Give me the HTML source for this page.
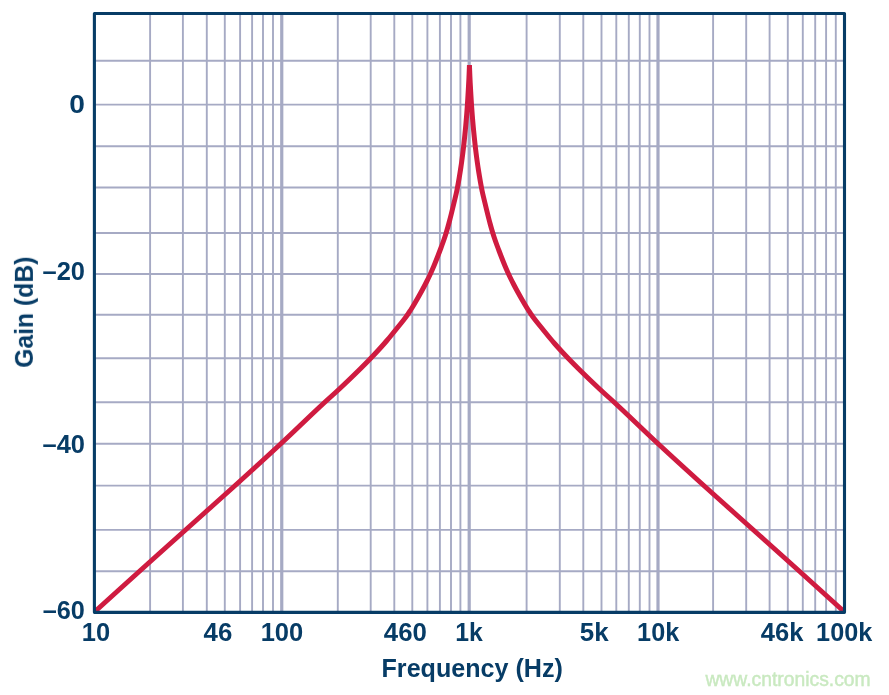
<!DOCTYPE html>
<html lang="en"><head><meta charset="utf-8"><title>Gain vs Frequency</title>
<style>
html,body{margin:0;padding:0;background:#fff;}
body{width:889px;height:695px;overflow:hidden;}
svg{display:block;}
.lbl{font-family:"Liberation Sans",Arial,Helvetica,sans-serif;font-weight:700;fill:#073c66;}
.wm{font-family:"Liberation Sans",Arial,Helvetica,sans-serif;font-weight:400;fill:#c9e9c0;stroke:#c9e9c0;stroke-width:0.45px;}
</style></head><body>
<svg width="889" height="695" viewBox="0 0 889 695">
<rect x="0" y="0" width="889" height="695" fill="#ffffff"/>
<g stroke="#a6aac4" stroke-width="1.9" fill="none">
<line x1="94.4" y1="60.7" x2="844.5" y2="60.7"/>
<line x1="94.4" y1="104.6" x2="844.5" y2="104.6"/>
<line x1="94.4" y1="146.3" x2="844.5" y2="146.3"/>
<line x1="94.4" y1="187.5" x2="844.5" y2="187.5"/>
<line x1="94.4" y1="233.0" x2="844.5" y2="233.0"/>
<line x1="94.4" y1="274.0" x2="844.5" y2="274.0"/>
<line x1="94.4" y1="314.8" x2="844.5" y2="314.8"/>
<line x1="94.4" y1="358.2" x2="844.5" y2="358.2"/>
<line x1="94.4" y1="402.2" x2="844.5" y2="402.2"/>
<line x1="94.4" y1="443.7" x2="844.5" y2="443.7"/>
<line x1="94.4" y1="485.6" x2="844.5" y2="485.6"/>
<line x1="94.4" y1="529.9" x2="844.5" y2="529.9"/>
<line x1="94.4" y1="571.3" x2="844.5" y2="571.3"/>
<line x1="150.1" y1="13.5" x2="150.1" y2="612.35"/>
<line x1="182.9" y1="13.5" x2="182.9" y2="612.35"/>
<line x1="206.8" y1="13.5" x2="206.8" y2="612.35"/>
<line x1="224.8" y1="13.5" x2="224.8" y2="612.35"/>
<line x1="240.1" y1="13.5" x2="240.1" y2="612.35"/>
<line x1="252.1" y1="13.5" x2="252.1" y2="612.35"/>
<line x1="263.0" y1="13.5" x2="263.0" y2="612.35"/>
<line x1="273.0" y1="13.5" x2="273.0" y2="612.35"/>
<line x1="337.8" y1="13.5" x2="337.8" y2="612.35"/>
<line x1="370.7" y1="13.5" x2="370.7" y2="612.35"/>
<line x1="394.3" y1="13.5" x2="394.3" y2="612.35"/>
<line x1="412.3" y1="13.5" x2="412.3" y2="612.35"/>
<line x1="427.4" y1="13.5" x2="427.4" y2="612.35"/>
<line x1="439.9" y1="13.5" x2="439.9" y2="612.35"/>
<line x1="451.0" y1="13.5" x2="451.0" y2="612.35"/>
<line x1="460.4" y1="13.5" x2="460.4" y2="612.35"/>
<line x1="526.6" y1="13.5" x2="526.6" y2="612.35"/>
<line x1="559.8" y1="13.5" x2="559.8" y2="612.35"/>
<line x1="583.3" y1="13.5" x2="583.3" y2="612.35"/>
<line x1="601.5" y1="13.5" x2="601.5" y2="612.35"/>
<line x1="616.3" y1="13.5" x2="616.3" y2="612.35"/>
<line x1="628.8" y1="13.5" x2="628.8" y2="612.35"/>
<line x1="639.8" y1="13.5" x2="639.8" y2="612.35"/>
<line x1="649.5" y1="13.5" x2="649.5" y2="612.35"/>
<line x1="713.1" y1="13.5" x2="713.1" y2="612.35"/>
<line x1="746.2" y1="13.5" x2="746.2" y2="612.35"/>
<line x1="769.6" y1="13.5" x2="769.6" y2="612.35"/>
<line x1="787.8" y1="13.5" x2="787.8" y2="612.35"/>
<line x1="802.8" y1="13.5" x2="802.8" y2="612.35"/>
<line x1="815.2" y1="13.5" x2="815.2" y2="612.35"/>
<line x1="826.1" y1="13.5" x2="826.1" y2="612.35"/>
<line x1="835.8" y1="13.5" x2="835.8" y2="612.35"/>
</g>
<g stroke="#a6aac4" stroke-width="3.2" fill="none">
<line x1="281.75" y1="13.5" x2="281.75" y2="612.35"/>
<line x1="469.2" y1="13.5" x2="469.2" y2="612.35"/>
<line x1="658.0" y1="13.5" x2="658.0" y2="612.35"/>
</g>
<clipPath id="c"><rect x="94.4" y="13.5" width="750.1" height="598.85"/></clipPath>
<path d="M94.45,612.00 L95.55,611.00 L98.86,608.00 L102.17,605.00 L105.47,602.00 L108.79,599.00 L112.10,596.00 L115.41,593.00 L118.73,590.00 L122.05,587.00 L125.37,584.00 L128.69,581.00 L132.01,578.00 L135.34,575.00 L138.66,572.00 L141.99,569.00 L145.32,566.00 L148.66,563.00 L151.99,560.00 L155.33,557.00 L158.67,554.00 L162.01,551.00 L165.36,548.00 L168.71,545.00 L172.06,542.00 L175.41,539.00 L178.76,536.00 L182.12,533.00 L185.47,530.00 L188.82,527.00 L192.18,524.00 L195.53,521.00 L198.88,518.00 L202.23,515.00 L205.57,512.00 L208.92,509.00 L212.27,506.00 L215.62,503.00 L218.97,500.00 L222.32,497.00 L225.67,494.00 L229.01,491.00 L232.35,488.00 L235.68,485.00 L239.00,482.00 L242.31,479.00 L245.61,476.00 L248.91,473.00 L252.21,470.00 L255.51,467.00 L258.79,464.00 L262.08,461.00 L265.35,458.00 L268.62,455.00 L271.88,452.00 L275.13,449.00 L278.37,446.00 L281.60,443.00 L284.81,440.00 L288.01,437.00 L291.18,434.00 L294.34,431.00 L297.50,428.00 L300.64,425.00 L303.79,422.00 L306.94,419.00 L310.09,416.00 L313.26,413.00 L316.44,410.00 L319.64,407.00 L322.86,404.00 L326.11,401.00 L329.42,398.00 L332.76,395.00 L336.08,392.00 L339.32,389.00 L342.50,386.00 L345.67,383.00 L348.82,380.00 L351.94,377.00 L355.03,374.00 L358.10,371.00 L361.14,368.00 L364.14,365.00 L367.10,362.00 L370.02,359.00 L372.90,356.00 L375.73,353.00 L378.51,350.00 L381.24,347.00 L383.91,344.00 L386.51,341.00 L389.04,338.00 L391.51,335.00 L393.94,332.00 L396.36,329.00 L398.80,326.00 L401.24,323.00 L403.62,320.00 L405.90,317.00 L408.03,314.00 L410.03,311.00 L411.92,308.00 L413.74,305.00 L415.50,302.00 L417.23,299.00 L418.94,296.00 L420.61,293.00 L422.26,290.00 L423.87,287.00 L425.44,284.00 L426.97,281.00 L428.46,278.00 L429.89,275.00 L431.27,272.00 L432.59,269.00 L433.87,266.00 L435.10,263.00 L436.30,260.00 L437.48,257.00 L438.63,254.00 L439.78,251.00 L440.92,248.00 L442.04,245.00 L443.13,242.00 L444.17,239.00 L445.17,236.00 L446.12,233.00 L447.01,230.00 L447.87,227.00 L448.70,224.00 L449.50,221.00 L450.27,218.00 L451.03,215.00 L451.77,212.00 L452.50,209.00 L453.23,206.00 L453.95,203.00 L454.68,200.00 L455.40,197.00 L456.11,194.00 L456.77,191.00 L457.37,188.00 L457.93,185.00 L458.47,182.00 L458.99,179.00 L459.49,176.00 L459.98,173.00 L460.46,170.00 L460.92,167.00 L461.36,164.00 L461.78,161.00 L462.19,158.00 L462.58,155.00 L462.96,152.00 L463.32,149.00 L463.66,146.00 L464.00,143.00 L464.32,140.00 L464.64,137.00 L464.94,134.00 L465.24,131.00 L465.53,128.00 L465.81,125.00 L466.07,122.00 L466.33,119.00 L466.58,116.00 L466.81,113.00 L467.03,110.00 L467.25,107.00 L467.45,104.00 L467.64,101.00 L467.83,98.00 L468.01,95.00 L468.19,92.00 L468.36,89.00 L468.53,86.00 L468.69,83.00 L468.84,80.00 L468.98,77.00 L469.11,74.00 L469.23,71.00 L469.35,68.00 L469.45,65.00 L469.55,68.00 L469.67,71.00 L469.79,74.00 L469.92,77.00 L470.06,80.00 L470.21,83.00 L470.37,86.00 L470.54,89.00 L470.71,92.00 L470.89,95.00 L471.07,98.00 L471.26,101.00 L471.45,104.00 L471.65,107.00 L471.87,110.00 L472.09,113.00 L472.32,116.00 L472.57,119.00 L472.83,122.00 L473.09,125.00 L473.37,128.00 L473.66,131.00 L473.96,134.00 L474.26,137.00 L474.58,140.00 L474.90,143.00 L475.24,146.00 L475.58,149.00 L475.94,152.00 L476.32,155.00 L476.71,158.00 L477.12,161.00 L477.54,164.00 L477.98,167.00 L478.44,170.00 L478.92,173.00 L479.41,176.00 L479.91,179.00 L480.43,182.00 L480.97,185.00 L481.53,188.00 L482.13,191.00 L482.79,194.00 L483.50,197.00 L484.22,200.00 L484.95,203.00 L485.67,206.00 L486.40,209.00 L487.13,212.00 L487.87,215.00 L488.63,218.00 L489.40,221.00 L490.20,224.00 L491.03,227.00 L491.89,230.00 L492.78,233.00 L493.73,236.00 L494.73,239.00 L495.77,242.00 L496.86,245.00 L497.98,248.00 L499.12,251.00 L500.27,254.00 L501.42,257.00 L502.60,260.00 L503.80,263.00 L505.03,266.00 L506.31,269.00 L507.63,272.00 L509.01,275.00 L510.44,278.00 L511.93,281.00 L513.46,284.00 L515.03,287.00 L516.64,290.00 L518.29,293.00 L519.96,296.00 L521.67,299.00 L523.40,302.00 L525.16,305.00 L526.98,308.00 L528.87,311.00 L530.87,314.00 L533.00,317.00 L535.28,320.00 L537.66,323.00 L540.10,326.00 L542.54,329.00 L544.96,332.00 L547.39,335.00 L549.86,338.00 L552.39,341.00 L554.99,344.00 L557.66,347.00 L560.39,350.00 L563.17,353.00 L566.00,356.00 L568.88,359.00 L571.80,362.00 L574.76,365.00 L577.76,368.00 L580.80,371.00 L583.87,374.00 L586.96,377.00 L590.08,380.00 L593.23,383.00 L596.40,386.00 L599.58,389.00 L602.82,392.00 L606.14,395.00 L609.48,398.00 L612.79,401.00 L616.04,404.00 L619.26,407.00 L622.46,410.00 L625.64,413.00 L628.81,416.00 L631.96,419.00 L635.11,422.00 L638.26,425.00 L641.40,428.00 L644.56,431.00 L647.72,434.00 L650.89,437.00 L654.09,440.00 L657.30,443.00 L660.53,446.00 L663.77,449.00 L667.02,452.00 L670.28,455.00 L673.55,458.00 L676.82,461.00 L680.11,464.00 L683.39,467.00 L686.69,470.00 L689.99,473.00 L693.29,476.00 L696.59,479.00 L699.90,482.00 L703.22,485.00 L706.55,488.00 L709.89,491.00 L713.23,494.00 L716.58,497.00 L719.93,500.00 L723.28,503.00 L726.63,506.00 L729.98,509.00 L733.33,512.00 L736.67,515.00 L740.02,518.00 L743.37,521.00 L746.72,524.00 L750.08,527.00 L753.43,530.00 L756.78,533.00 L760.14,536.00 L763.49,539.00 L766.84,542.00 L770.19,545.00 L773.54,548.00 L776.89,551.00 L780.23,554.00 L783.57,557.00 L786.91,560.00 L790.24,563.00 L793.58,566.00 L796.91,569.00 L800.24,572.00 L803.56,575.00 L806.89,578.00 L810.21,581.00 L813.53,584.00 L816.85,587.00 L820.17,590.00 L823.49,593.00 L826.80,596.00 L830.11,599.00 L833.43,602.00 L836.73,605.00 L840.04,608.00 L843.35,611.00 L844.45,612.00" fill="none" stroke="#cf1b40" stroke-width="5" stroke-linejoin="miter" stroke-miterlimit="4" stroke-linecap="butt" clip-path="url(#c)"/>
<rect x="94.4" y="13.5" width="750.1" height="598.85" fill="none" stroke="#073c66" stroke-width="3.1" stroke-linejoin="round"/>
<g opacity="0.999">
<text class="lbl" x="69.30" y="112.85" font-size="25.5" textLength="15.64" lengthAdjust="spacingAndGlyphs">0</text>
<text class="lbl" x="42.50" y="280.35" font-size="25.5" textLength="42.44" lengthAdjust="spacingAndGlyphs">–20</text>
<text class="lbl" x="42.50" y="453.05" font-size="25.5" textLength="42.44" lengthAdjust="spacingAndGlyphs">–40</text>
<text class="lbl" x="42.71" y="618.85" font-size="25.5" textLength="42.08" lengthAdjust="spacingAndGlyphs">–60</text>
<text class="lbl" x="81.80" y="640.8" font-size="25.5" textLength="28.32" lengthAdjust="spacingAndGlyphs">10</text>
<text class="lbl" x="203.59" y="640.8" font-size="25.5" textLength="28.74" lengthAdjust="spacingAndGlyphs">46</text>
<text class="lbl" x="260.65" y="640.8" font-size="25.5" textLength="42.55" lengthAdjust="spacingAndGlyphs">100</text>
<text class="lbl" x="383.89" y="640.8" font-size="25.5" textLength="43.01" lengthAdjust="spacingAndGlyphs">460</text>
<text class="lbl" x="455.14" y="640.8" font-size="25.5" textLength="27.53" lengthAdjust="spacingAndGlyphs">1k</text>
<text class="lbl" x="579.84" y="640.8" font-size="25.5" textLength="28.84" lengthAdjust="spacingAndGlyphs">5k</text>
<text class="lbl" x="637.12" y="640.8" font-size="25.5" textLength="42.08" lengthAdjust="spacingAndGlyphs">10k</text>
<text class="lbl" x="760.80" y="640.8" font-size="25.5" textLength="42.60" lengthAdjust="spacingAndGlyphs">46k</text>
<text class="lbl" x="816.12" y="640.8" font-size="25.5" textLength="56.12" lengthAdjust="spacingAndGlyphs">100k</text>
<text class="lbl" x="381.54" y="677.0" font-size="25.0" textLength="181.36" lengthAdjust="spacingAndGlyphs">Frequency (Hz)</text>
<text class="lbl" x="-0.99" y="0" font-size="25.0" textLength="111.22" lengthAdjust="spacingAndGlyphs" transform="translate(32.9,366.8) rotate(-90)">Gain (dB)</text>
<text class="wm" x="705.40" y="685.7" font-size="20" textLength="165.26" lengthAdjust="spacingAndGlyphs">www.cntronics.com</text>
</g>
</svg>
</body></html>
